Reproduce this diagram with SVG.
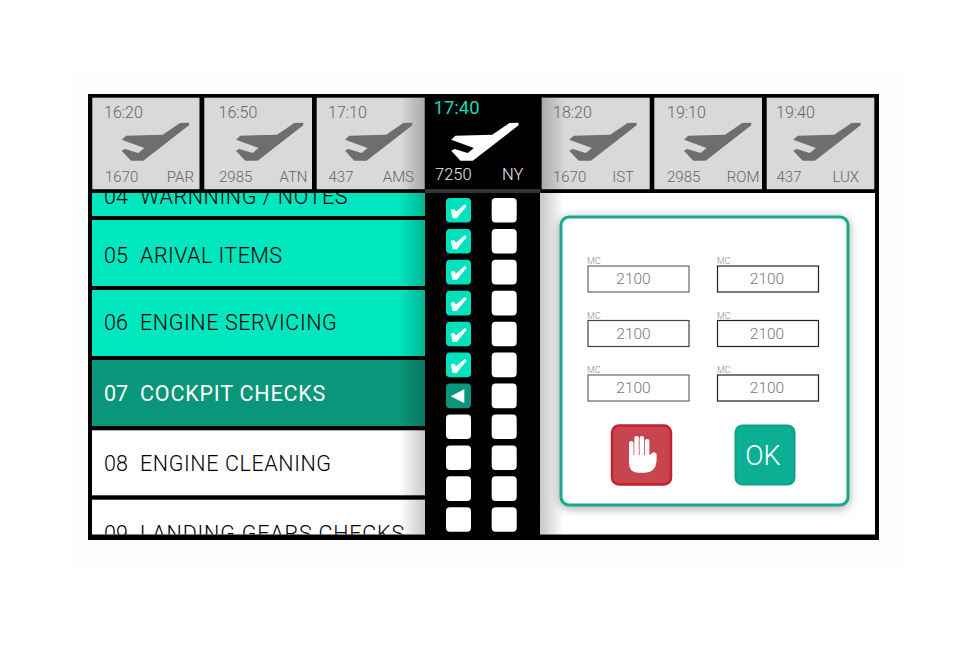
<svg xmlns="http://www.w3.org/2000/svg" width="970" height="647" viewBox="0 0 970 647">
<style>
text{font-family:Roboto,"Liberation Sans",Arial,sans-serif;font-weight:300}
.cell{fill:#d9d9d9}
.g{fill:#666;font-size:15px}
.t{fill:#666;font-size:16px}
.e{text-anchor:end}
.row{font-size:21.5px;fill:#000}
.box{fill:#fff}
.done{fill:#00e2bd}
.chk{fill:#fff}
.in{fill:#fff;stroke-width:1.2}
.mc{fill:#888;font-size:9px}
.v{fill:#777;font-size:15.5px;text-anchor:middle}
</style>
<defs>
<polygon id="plane" points="180,123 189,122.700 189,125.300 143.300,160.700 131,160.700 121.700,150.700 125,149 138.300,153 144.300,148 121.700,139.700 126,135.700 162.700,134.700"/>
<rect id="bx" width="25" height="24.600" rx="4"/>
<path id="tick" d="M4.700 12 8 11 10 13.700 18.700 6.300 20.700 8 10.700 20.300 6.700 20.300Z"/>
<linearGradient id="sr" x1="0" x2="1" y1="0" y2="0"><stop offset="0" stop-color="#000" stop-opacity="0"/><stop offset="1" stop-color="#000" stop-opacity=".22"/></linearGradient>
<linearGradient id="sl" x1="0" x2="1" y1="0" y2="0"><stop offset="0" stop-color="#000" stop-opacity=".22"/><stop offset="1" stop-color="#000" stop-opacity="0"/></linearGradient>
<clipPath id="rows"><rect x="92" y="193" width="333" height="341.500"/></clipPath>
<filter id="sh" x="-15%" y="-15%" width="130%" height="130%"><feDropShadow dx="0" dy="2" stdDeviation="5" flood-color="#000" flood-opacity=".35"/></filter>
</defs>
<rect width="970" height="647" fill="#fff"/>
<rect x="70" y="70" width="830" height="498" fill="#fdfdfd"/>
<rect id="frame" x="88" y="94" width="791" height="446" fill="#000"/>
<g id="rows-list" clip-path="url(#rows)">
<g id="row04"><rect x="92" y="180" width="333" height="36" fill="#00e6bf"/><text class="row" x="104" y="203.500">04<tspan x="140" letter-spacing=".6">WARNNING / NOTES</tspan></text></g>
<g id="row05"><rect x="92" y="220" width="333" height="66" fill="#00e6bf"/><text class="row" x="104" y="263">05<tspan x="140" letter-spacing=".45">ARIVAL ITEMS</tspan></text></g>
<g id="row06"><rect x="92" y="290" width="333" height="66" fill="#00e6bf"/><text class="row" x="104" y="330">06<tspan x="140" letter-spacing=".6">ENGINE SERVICING</tspan></text></g>
<g id="row07"><rect x="92" y="360" width="333" height="66" fill="#0a967a"/><text class="row" style="fill:#fff;font-weight:400" x="104" y="400.500">07<tspan x="140" letter-spacing=".8">COCKPIT CHECKS</tspan></text></g>
<g id="row08"><rect x="92" y="430.300" width="333" height="65" fill="#fff"/><text class="row" x="104" y="470.700">08<tspan x="140" letter-spacing=".6">ENGINE CLEANING</tspan></text></g>
<g id="row09"><rect x="92" y="499.700" width="333" height="40" fill="#fff"/><text class="row" x="104" y="541">09<tspan x="140" letter-spacing=".8">LANDING GEARS CHECKS</tspan></text></g>
<rect x="400" y="193" width="25" height="342" fill="url(#sr)"/>
</g>
<g id="flight-par"><rect class="cell" x="92.300" y="97.700" width="107.200" height="91.500"/><use href="#plane" fill="#6e6e6e"/><text class="t" x="104" y="117.700">16:20</text><text class="g" x="105" y="182.300">1670</text><text class="g e" x="194" y="182.300">PAR</text></g>
<g id="flight-atn"><rect class="cell" x="204.300" y="97.700" width="107.700" height="91.500"/><use href="#plane" x="114.300" fill="#6e6e6e"/><text class="t" x="218.500" y="117.700">16:50</text><text class="g" x="219" y="182.300">2985</text><text class="g e" x="307.500" y="182.300">ATN</text></g>
<g id="flight-ams"><rect class="cell" x="316.700" y="97.700" width="108" height="91.500"/><rect x="400" y="97.700" width="24.700" height="91.500" fill="url(#sr)"/><use href="#plane" x="223.300" fill="#6e6e6e"/><text class="t" x="328" y="117.700">17:10</text><text class="g" x="328.500" y="182.300">437</text><text class="g e" x="414" y="182.300">AMS</text></g>
<g id="flight-ny"><rect x="425" y="189" width="115.500" height="4" fill="#333"/><use href="#plane" x="329.500" fill="#fff"/><text x="433.500" y="114" font-size="18.500" fill="#19d8ae" style="font-weight:400">17:40</text><text x="435" y="180" font-size="16.500" fill="#eee">7250</text><text x="523.500" y="180" font-size="16.500" fill="#eee" text-anchor="end">NY</text></g>
<g id="flight-ist"><rect class="cell" x="541.700" y="97.700" width="108" height="91.500"/><rect x="541.700" y="97.700" width="24" height="91.500" fill="url(#sl)"/><use href="#plane" x="447.600" fill="#6e6e6e"/><text class="t" x="553" y="117.700">18:20</text><text class="g" x="553" y="182.300">1670</text><text class="g e" x="634" y="182.300">IST</text></g>
<g id="flight-rom"><rect class="cell" x="654.300" y="97.700" width="107.700" height="91.500"/><use href="#plane" x="562.300" fill="#6e6e6e"/><text class="t" x="667" y="117.700">19:10</text><text class="g" x="667" y="182.300">2985</text><text class="g e" x="759.500" y="182.300">ROM</text></g>
<g id="flight-lux"><rect class="cell" x="766.700" y="97.700" width="107.600" height="91.500"/><use href="#plane" x="671.600" fill="#6e6e6e"/><text class="t" x="776" y="117.700">19:40</text><text class="g" x="776.500" y="182.300">437</text><text class="g e" x="859" y="182.300">LUX</text></g>
<g id="checks-a">
<g transform="translate(446 198)"><use href="#bx" class="done"/><use href="#tick" class="chk"/></g>
<g transform="translate(446 229)"><use href="#bx" class="done"/><use href="#tick" class="chk"/></g>
<g transform="translate(446 259.800)"><use href="#bx" class="done"/><use href="#tick" class="chk"/></g>
<g transform="translate(446 290.800)"><use href="#bx" class="done"/><use href="#tick" class="chk"/></g>
<g transform="translate(446 321.700)"><use href="#bx" class="done"/><use href="#tick" class="chk"/></g>
<g transform="translate(446 352.600)"><use href="#bx" class="done"/><use href="#tick" class="chk"/></g>
<g transform="translate(446 383.600)"><use href="#bx" fill="#0a967a"/><polygon points="4.700,12.700 18.300,5.700 18.300,19.700" class="chk"/></g>
<use href="#bx" class="box" x="446" y="414.400"/>
<use href="#bx" class="box" x="446" y="445.400"/>
<use href="#bx" class="box" x="446" y="476.300"/>
<use href="#bx" class="box" x="446" y="507.200"/>
</g>
<g id="checks-b">
<use href="#bx" class="box" x="491.700" y="198"/>
<use href="#bx" class="box" x="491.700" y="229"/>
<use href="#bx" class="box" x="491.700" y="259.800"/>
<use href="#bx" class="box" x="491.700" y="290.800"/>
<use href="#bx" class="box" x="491.700" y="321.700"/>
<use href="#bx" class="box" x="491.700" y="352.600"/>
<use href="#bx" class="box" x="491.700" y="383.600"/>
<use href="#bx" class="box" x="491.700" y="414.400"/>
<use href="#bx" class="box" x="491.700" y="445.400"/>
<use href="#bx" class="box" x="491.700" y="476.300"/>
<use href="#bx" class="box" x="491.700" y="507.200"/>
</g>
<g id="detail-area"><rect x="540" y="193" width="335" height="341.500" fill="#fff"/><rect x="540" y="193" width="24" height="341.500" fill="url(#sl)"/></g>
<g id="panel"><rect x="561" y="217" width="287" height="288" rx="8" fill="#fff" stroke="#12a88a" stroke-width="3" filter="url(#sh)"/></g>
<g id="field-1"><text class="mc" x="587" y="264">MC</text><rect class="in" stroke="#666" x="588" y="266" width="101" height="26"/><text class="v" x="633.500" y="284">2100</text></g>
<g id="field-2"><text class="mc" x="717" y="264">MC</text><rect class="in" stroke="#222" x="717.500" y="266" width="101" height="26"/><text class="v" x="767" y="284">2100</text></g>
<g id="field-3"><text class="mc" x="587" y="318.500">MC</text><rect class="in" stroke="#444" x="588" y="320.500" width="101" height="26"/><text class="v" x="633.500" y="338.500">2100</text></g>
<g id="field-4"><text class="mc" x="717" y="318.500">MC</text><rect class="in" stroke="#222" x="717.500" y="320.500" width="101" height="26"/><text class="v" x="767" y="338.500">2100</text></g>
<g id="field-5"><text class="mc" x="587" y="373">MC</text><rect class="in" stroke="#666" x="588" y="375" width="101" height="26"/><text class="v" x="633.500" y="393">2100</text></g>
<g id="field-6"><text class="mc" x="717" y="373">MC</text><rect class="in" stroke="#222" x="717.500" y="375" width="101" height="26"/><text class="v" x="767" y="393">2100</text></g>
<g id="stop-button"><rect x="612" y="425.500" width="59" height="59" rx="7" fill="#c8454f" stroke="#c4202e" stroke-width="2.500"/>
<g fill="#fff"><rect x="629" y="441" width="4.500" height="22" rx="2.200"/><rect x="634.300" y="436" width="4.500" height="24" rx="2.200"/><rect x="639.600" y="436" width="4.500" height="24" rx="2.200"/><rect x="644.900" y="439" width="4.500" height="24" rx="2.200"/><path d="M629 455H650L652 453Q653.500 452 655 452.500 656.700 453 656.700 455L656.500 462Q655 472.700 645 472.700H638Q629 472.700 629 463Z"/></g></g>
<g id="ok-button"><rect x="735.500" y="425.500" width="59" height="59" rx="7" fill="#0bb094" stroke="#0fa085" stroke-width="2"/><text x="763" y="465" font-size="27" fill="#fff" text-anchor="middle">OK</text></g>
</svg>
